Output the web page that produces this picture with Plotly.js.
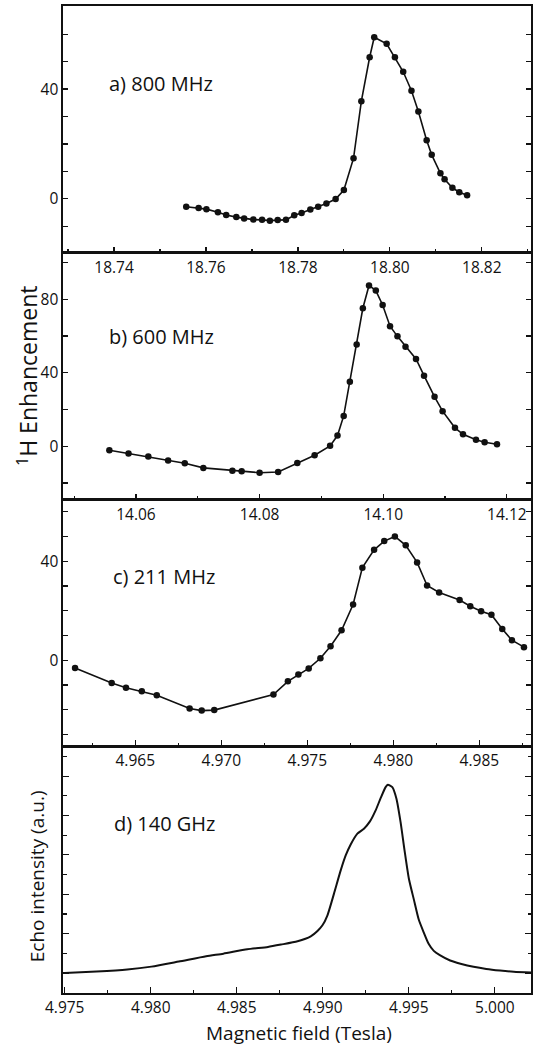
<!DOCTYPE html>
<html>
<head>
<meta charset="utf-8">
<script src="https://cdn.plot.ly/plotly-3.0.1.min.js"></script>
<style>
  html, body { margin: 0; padding: 0; background: #fff; }
  #chart { width: 538px; height: 1050px; }
</style>
</head>
<body>
<div id="chart"></div>
<script>
// ---- Panel a) 800 MHz ----
const fieldA = [18.7557, 18.7584, 18.7601, 18.7626, 18.7644, 18.7666, 18.7683, 18.7703, 18.7722, 18.7739,
                18.7756, 18.7774, 18.7792, 18.7808, 18.7827, 18.7844, 18.7862, 18.7882, 18.7900, 18.7921,
                18.7938, 18.7956, 18.7966, 18.7993, 18.8011, 18.8029, 18.8047, 18.8062, 18.8080, 18.8091,
                18.8110, 18.8119, 18.8136, 18.8151, 18.8168];
const enhA = [-2.9, -3.4, -3.8, -4.9, -5.9, -6.7, -7.2, -7.6, -7.7, -8.0,
              -7.8, -7.7, -6.0, -5.2, -3.9, -2.9, -1.7, -0.1, 3.2, 14.8,
              35.6, 51.6, 58.9, 56.5, 51.6, 46.3, 39.4, 31.8, 21.3, 16.0,
              9.3, 7.1, 4.0, 2.4, 1.3];

// ---- Panel b) 600 MHz ----
const fieldB = [14.0557, 14.0588, 14.0620, 14.0652, 14.0679, 14.0709, 14.0756, 14.0771, 14.0800, 14.0830,
                14.0861, 14.0889, 14.0914, 14.0926, 14.0936, 14.0946, 14.0957, 14.0967, 14.0977, 14.0988,
                14.0999, 14.1011, 14.1023, 14.1036, 14.1053, 14.1066, 14.1083, 14.1096, 14.1116, 14.1129,
                14.1150, 14.1164, 14.1184];
const enhB = [-2.2, -4.0, -5.6, -7.8, -9.3, -11.8, -13.3, -13.6, -14.4, -14.0,
              -9.1, -4.9, 0.2, 5.8, 16.5, 35.1, 55.3, 75.1, 87.5, 84.7,
              76.9, 65.3, 59.8, 54.2, 47.5, 38.4, 26.9, 19.1, 10.0, 6.5,
              3.5, 2.2, 1.1];

// ---- Panel c) 211 MHz ----
const fieldC = [4.96150, 4.96363, 4.96446, 4.96538, 4.96625, 4.96816, 4.96886, 4.96959, 4.97303, 4.97387,
                4.97448, 4.97508, 4.97576, 4.97635, 4.97699, 4.97766, 4.97820, 4.97888, 4.97947, 4.98009,
                4.98072, 4.98138, 4.98196, 4.98266, 4.98385, 4.98447, 4.98510, 4.98570, 4.98633, 4.98689,
                4.98759];
const enhC = [-3.1, -9.2, -11.1, -12.5, -14.1, -19.5, -20.3, -20.1, -13.8, -8.5,
              -5.7, -3.3, 0.8, 5.7, 12.1, 22.5, 37.4, 44.6, 48.1, 50.0,
              46.4, 39.5, 30.2, 27.4, 24.3, 21.8, 19.8, 18.4, 12.6, 8.1,
              5.3];

// ---- Panel d) 140 GHz echo-detected EPR ----
const fieldD = [4.97500, 4.97685, 4.97864, 4.98004, 4.98163, 4.98322, 4.98422, 4.98561, 4.98681, 4.98757,
                4.98853, 4.98930, 4.98969, 4.98998, 4.99027, 4.99065, 4.99104, 4.99133, 4.99162, 4.99201,
                4.99239, 4.99274, 4.99307, 4.99336, 4.99365, 4.99378, 4.99404, 4.99428, 4.99452, 4.99475,
                4.99500, 4.99530, 4.99558, 4.99587, 4.99615, 4.99645, 4.99680, 4.99740, 4.99800, 4.99876,
                4.99950, 5.00030, 5.00110, 5.00210];
const echoD = [0.000, 0.007, 0.017, 0.032, 0.058, 0.085, 0.098, 0.120, 0.132, 0.144,
               0.161, 0.186, 0.213, 0.242, 0.293, 0.403, 0.521, 0.597, 0.653, 0.708,
               0.733, 0.770, 0.826, 0.888, 0.944, 0.956, 0.944, 0.885, 0.766, 0.623,
               0.480, 0.370, 0.270, 0.205, 0.148, 0.112, 0.090, 0.063, 0.047, 0.031,
               0.020, 0.012, 0.006, 0.002];

// Labelled y ticks (unlabelled ticks are drawn as minor ticks)
const yTickValsA = [0, 40];
const yTickValsB = [0, 40, 80];
const yTickValsC = [0, 40];

const panelLabels = ['a) 800 MHz', 'b) 600 MHz', 'c) 211 MHz', 'd) 140 GHz'];
const yTitleNMR = '<sup>1</sup>H Enhancement';
const yTitleEPR = 'Echo intensity (a.u.)';
const xTitle = 'Magnetic field (Tesla)';

const FONT = 'Open Sans, Noto Sans, sans-serif';
const INK = '#111111';

const lineStyle = { color: INK, width: 1.6 };
const markerStyle = { color: INK, size: 6.5 };

const traces = [
  { x: fieldA, y: enhA, xaxis: 'x', yaxis: 'y', mode: 'lines+markers', line: lineStyle, marker: markerStyle, cliponaxis: false },
  { x: fieldB, y: enhB, xaxis: 'x2', yaxis: 'y2', mode: 'lines+markers', line: lineStyle, marker: markerStyle, cliponaxis: false },
  { x: fieldC, y: enhC, xaxis: 'x3', yaxis: 'y3', mode: 'lines+markers', line: lineStyle, marker: markerStyle, cliponaxis: false },
  { x: fieldD, y: echoD, xaxis: 'x4', yaxis: 'y4', mode: 'lines', line: { color: INK, width: 2, shape: 'spline', smoothing: 0.6 } }
];

function xAx(range, tick0, dtick, minorDtick, fmt, anchor) {
  return {
    domain: [0, 1], anchor: anchor, range: range,
    tickmode: 'linear', tick0: tick0, dtick: dtick, tickformat: fmt,
    ticks: 'inside', ticklen: 6, tickwidth: 1.2, tickcolor: INK,
    minor: { tickmode: 'linear', tick0: tick0, dtick: minorDtick, ticks: 'inside', ticklen: 3.5, tickwidth: 1.2, tickcolor: INK },
    showline: true, linewidth: 1.6, linecolor: INK, mirror: true,
    showgrid: false, zeroline: false,
    tickfont: { family: FONT, size: 15.5, color: INK }
  };
}
function yAx(domain, range, anchor, extra) {
  return Object.assign({
    domain: domain, anchor: anchor, range: range,
    ticks: 'inside', ticklen: 5, tickwidth: 1.2, tickcolor: INK,
    showline: true, linewidth: 1.6, linecolor: INK, mirror: 'ticks',
    showgrid: false, zeroline: false,
    tickfont: { family: FONT, size: 15.5, color: INK }
  }, extra);
}
function yMinor(dt, len) {
  return { tickmode: 'linear', tick0: 0, dtick: dt, ticks: 'inside', ticklen: len, tickwidth: 1.2, tickcolor: INK };
}

const labelFont = { family: FONT, size: 20, color: INK };

const layout = {
  width: 538, height: 1050,
  margin: { l: 63, r: 7, t: 6, b: 57.3 },
  paper_bgcolor: '#ffffff', plot_bgcolor: '#ffffff',
  showlegend: false,
  font: { family: FONT, color: INK },
  xaxis:  xAx([18.7289, 18.8307], 18.74, 0.02, 0.01, '.2f', 'y'),
  xaxis2: xAx([14.0482, 14.1239], 14.06, 0.02, 0.01, '.2f', 'y2'),
  xaxis3: xAx([4.9608, 4.9880], 4.965, 0.005, 0.0025, '.3f', 'y3'),
  xaxis4: xAx([4.9749, 5.0021], 4.975, 0.005, 0.0025, '.3f', 'y4'),
  yaxis:  yAx([0.75, 1], [-19.7, 70.3], 'x', { tickmode: 'array', tickvals: yTickValsA, minor: yMinor(10, 5) }),
  yaxis2: yAx([0.5, 0.75], [-29.0, 105.3], 'x2', { tickmode: 'array', tickvals: yTickValsB, minor: yMinor(20, 5) }),
  yaxis3: yAx([0.25, 0.5], [-34.7, 64.9], 'x3', { tickmode: 'array', tickvals: yTickValsC, minor: yMinor(10, 5) }),
  yaxis4: yAx([0, 0.25], [-0.102, 1.152], 'x4', { tickmode: 'linear', tick0: 0, dtick: 0.2, showticklabels: false, ticklen: 6,
           minor: yMinor(0.1, 3.5) }),
  annotations: [
    { text: panelLabels[0], xref: 'paper', yref: 'paper', x: 0.094, y: 0.921, xanchor: 'left', yanchor: 'middle', showarrow: false, font: labelFont },
    { text: panelLabels[1], xref: 'paper', yref: 'paper', x: 0.094, y: 0.6656, xanchor: 'left', yanchor: 'middle', showarrow: false, font: labelFont },
    { text: panelLabels[2], xref: 'paper', yref: 'paper', x: 0.103, y: 0.4216, xanchor: 'left', yanchor: 'middle', showarrow: false, font: labelFont },
    { text: panelLabels[3], xref: 'paper', yref: 'paper', x: 0.104, y: 0.172, xanchor: 'left', yanchor: 'middle', showarrow: false, font: labelFont },
    { text: yTitleNMR, xref: 'paper', yref: 'paper', x: -0.075, y: 0.625, xanchor: 'center', yanchor: 'middle', textangle: -90, showarrow: false, font: { family: FONT, size: 23, color: INK } },
    { text: yTitleEPR, xref: 'paper', yref: 'paper', x: -0.0556, y: 0.1183, xanchor: 'center', yanchor: 'middle', textangle: -90, showarrow: false, font: { family: FONT, size: 19, color: INK } },
    { text: xTitle, xref: 'paper', yref: 'paper', x: 0.504, y: -0.0408, xanchor: 'center', yanchor: 'middle', showarrow: false, font: { family: FONT, size: 19, color: INK } }
  ]
};

Plotly.newPlot('chart', traces, layout, { staticPlot: true, displayModeBar: false });
</script>
</body>
</html>
